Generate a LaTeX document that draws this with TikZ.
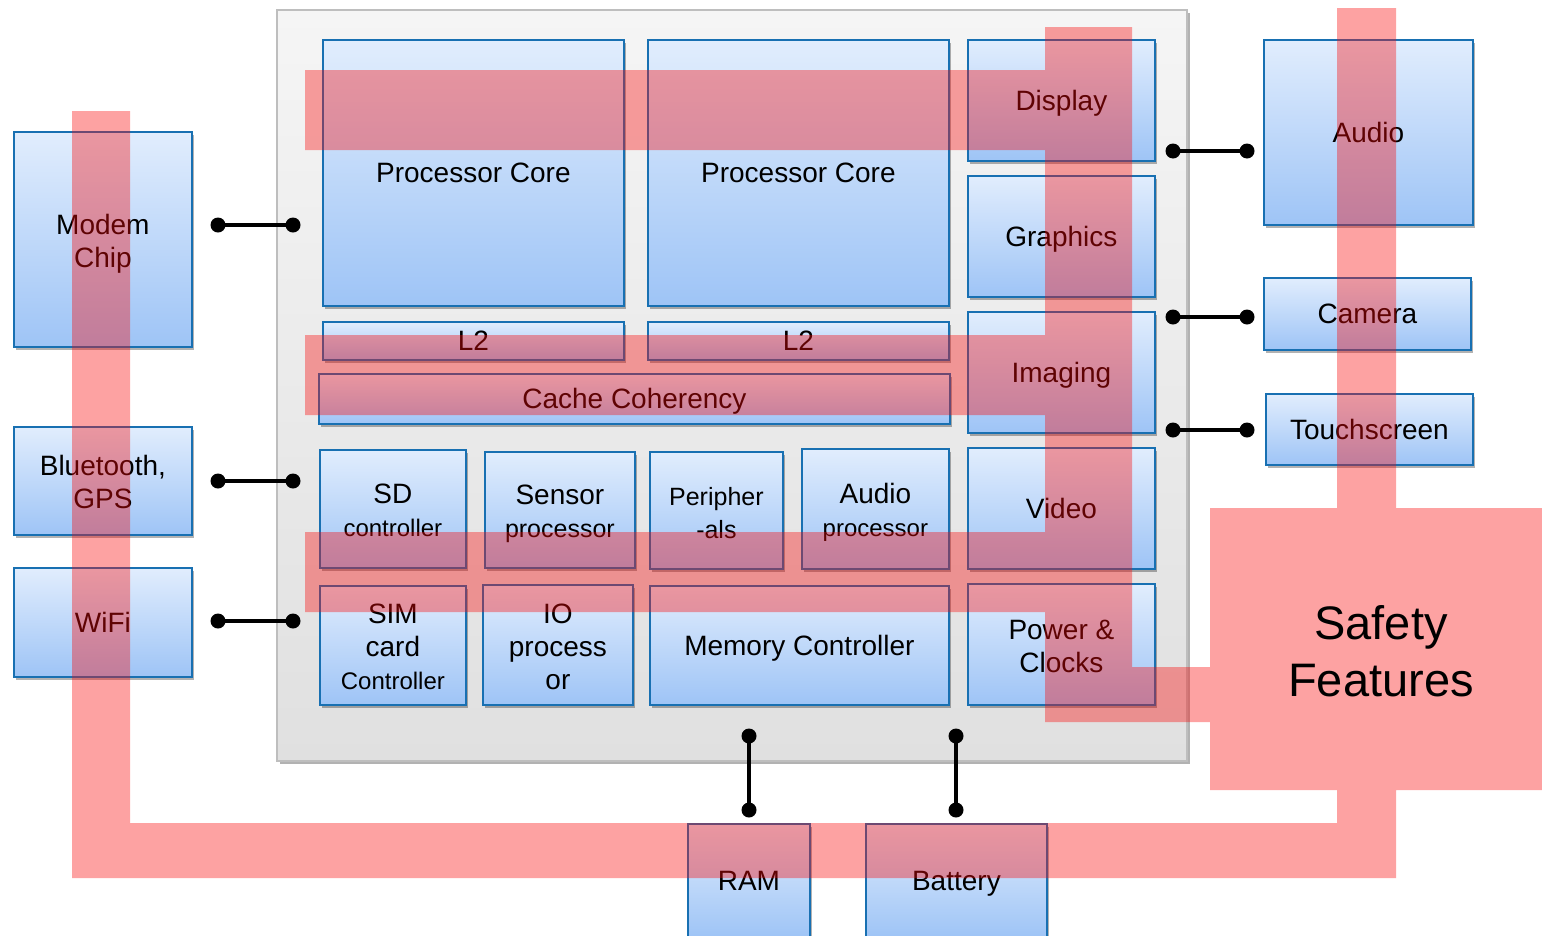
\documentclass[tikz,border=0pt]{standalone}
\usepackage{fontspec}
\setmainfont{Liberation Sans}
\usetikzlibrary{shadows}
\definecolor{boxtop}{RGB}{225,237,253}
\definecolor{boxbot}{RGB}{158,196,246}
\definecolor{boxline}{RGB}{24,112,178}
\definecolor{chiptop}{RGB}{245,245,245}
\definecolor{chipbot}{RGB}{224,224,224}
\definecolor{chipline}{RGB}{190,190,190}
\definecolor{safered}{RGB}{250,10,10}
\newcommand{\fsz}[1]{\fontsize{#1}{33}\selectfont}
\newcommand{\pstrut}{\rule[-5.9pt]{0pt}{31.2pt}}
\newcommand{\mstrut}{\rule[-5.9pt]{0pt}{34pt}}
\tikzset{
  bbox/.style={draw=boxline, line width=1.8pt, top color=boxtop, bottom color=boxbot,
    anchor=north west, inner sep=0pt, align=center,
    drop shadow={shadow xshift=2.5pt, shadow yshift=-3pt, opacity=0.3, fill=black},
    font=\fontsize{28}{33}\selectfont,
    execute at begin node=\pstrut, execute at end node=\pstrut},
  chipbox/.style={draw=chipline, line width=2pt, top color=chiptop, bottom color=chipbot,
    anchor=north west, inner sep=0pt,
    drop shadow={shadow xshift=3pt, shadow yshift=-3pt, opacity=0.3, fill=black}},
  dotnode/.style={circle, fill=black, inner sep=0pt, minimum size=15pt},
  conn/.style={line width=4.5pt, black},
  overlay/.style={fill=safered, fill opacity=0.38},
}
\begin{document}
\begin{tikzpicture}[x=1pt,y=-1pt]
\useasboundingbox (0,0) rectangle (1542,935);
% chip
\node[chipbox, minimum width=910pt, minimum height=751pt] (chip) at (276,9) {};
% inner boxes
\node[bbox, minimum width=301pt, minimum height=266pt] (pc1) at (322,39) {Processor Core};
\node[bbox, minimum width=301pt, minimum height=266pt] (pc2) at (647,39) {Processor Core};
\node[bbox, minimum width=187pt, minimum height=121pt] (disp) at (967,39) {Display};
\node[bbox, minimum width=187pt, minimum height=121pt] (gfx) at (967,175) {Graphics};
\node[bbox, minimum width=187pt, minimum height=121pt] (img) at (967,311) {Imaging};
\node[bbox, minimum width=187pt, minimum height=121pt] (vid) at (967,447) {Video};
\node[bbox, minimum width=187pt, minimum height=121pt] (pwr) at (967,583) {\mstrut Power \&\\Clocks};
\node[bbox, minimum width=301pt, minimum height=38pt] (l2a) at (322,321) {L2};
\node[bbox, minimum width=301pt, minimum height=38pt] (l2b) at (647,321) {L2};
\node[bbox, minimum width=631pt, minimum height=50pt] (cache) at (318,373) {Cache Coherency};
\node[bbox, minimum width=146pt, minimum height=118pt] (sd) at (319,449) {\mstrut SD\\{\fsz{24}controller}};
\node[bbox, minimum width=150pt, minimum height=116pt] (sens) at (484,451) {\mstrut Sensor\\{\fsz{25}processor}};
\node[bbox, minimum width=133pt, minimum height=117pt, font=\fsz{25}] (peri) at (649,451) {\mstrut Peripher\\-als};
\node[bbox, minimum width=147pt, minimum height=120pt] (aud) at (801,448) {\mstrut Audio\\{\fsz{24}processor}};
\node[bbox, minimum width=146pt, minimum height=119pt] (sim) at (319,585) {\mstrut SIM\\card\\{\fsz{24}Controller}};
\node[bbox, minimum width=150pt, minimum height=120pt] (io) at (482,584) {\mstrut IO\\process\\or};
\node[bbox, minimum width=299pt, minimum height=119pt] (mem) at (649,585) {Memory Controller};
% outside boxes
\node[bbox, minimum width=178pt, minimum height=215pt] (modem) at (13,131) {\mstrut Modem\\Chip};
\node[bbox, minimum width=178pt, minimum height=108pt] (bt) at (13,426) {\mstrut Bluetooth,\\GPS};
\node[bbox, minimum width=178pt, minimum height=109pt] (wifi) at (13,567) {WiFi};
\node[bbox, minimum width=209pt, minimum height=185pt] (audio) at (1263,39) {Audio};
\node[bbox, minimum width=207pt, minimum height=72pt] (cam) at (1263,277) {Camera};
\node[bbox, minimum width=207pt, minimum height=71pt] (touch) at (1265,393) {Touchscreen};
\node[bbox, minimum width=122pt, minimum height=114pt] (ram) at (687,823) {RAM};
\node[bbox, minimum width=181pt, minimum height=114pt] (bat) at (865,823) {Battery};
% connectors
\node[dotnode] (a1) at (218,225) {}; \node[dotnode] (a2) at (293,225) {};
\node[dotnode] (b1) at (218,481) {}; \node[dotnode] (b2) at (293,481) {};
\node[dotnode] (c1) at (218,621) {}; \node[dotnode] (c2) at (293,621) {};
\node[dotnode] (d1) at (1173,151) {}; \node[dotnode] (d2) at (1247,151) {};
\node[dotnode] (e1) at (1173,317) {}; \node[dotnode] (e2) at (1247,317) {};
\node[dotnode] (f1) at (1173,430) {}; \node[dotnode] (f2) at (1247,430) {};
\node[dotnode] (g1) at (749,736) {}; \node[dotnode] (g2) at (749,810) {};
\node[dotnode] (h1) at (956,736) {}; \node[dotnode] (h2) at (956,810) {};
\draw[conn] (a1.center) -- (a2.center);
\draw[conn] (b1.center) -- (b2.center);
\draw[conn] (c1.center) -- (c2.center);
\draw[conn] (d1.center) -- (d2.center);
\draw[conn] (e1.center) -- (e2.center);
\draw[conn] (f1.center) -- (f2.center);
\draw[conn] (g1.center) -- (g2.center);
\draw[conn] (h1.center) -- (h2.center);
% red overlay
\fill[overlay]
  (305,70) rectangle (1045,150)
  (305,335) rectangle (1045,415)
  (305,532) rectangle (1045,612)
  (1045,27) rectangle (1132,722)
  (1132,667) rectangle (1210,722)
  (1210,508) rectangle (1542,790)
  (1337,8) rectangle (1396,508)
  (1337,790) rectangle (1396,823)
  (72,823) rectangle (1396,878)
  (72,111) rectangle (130,823);
\node[font=\fontsize{47}{57}\selectfont, align=center, inner sep=0pt] (safety) at (1381,651) {Safety\\Features};
\end{tikzpicture}
\end{document}
